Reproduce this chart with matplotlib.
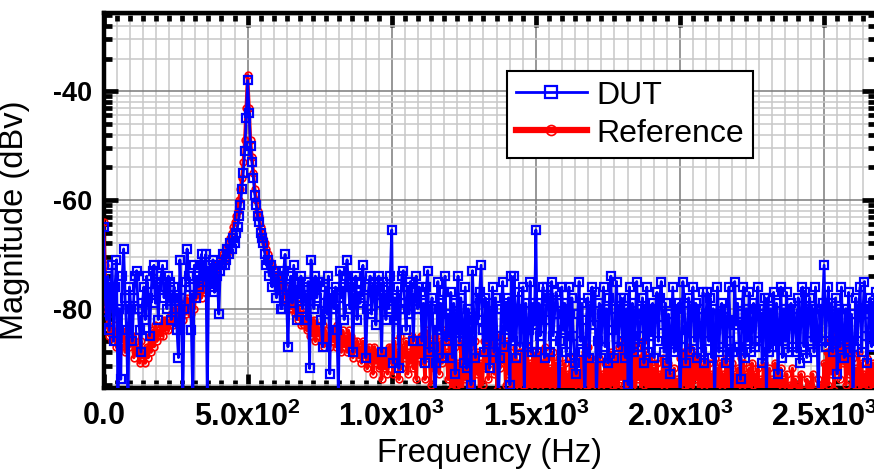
import numpy as np
import matplotlib
matplotlib.use("Agg")
import matplotlib.pyplot as plt
from matplotlib.ticker import MultipleLocator, FixedLocator

plt.rcParams['font.family'] = ['Liberation Sans', 'DejaVu Sans']
plt.rcParams['axes.unicode_minus'] = False
plt.rcParams['mathtext.fontset'] = 'custom'
plt.rcParams['mathtext.rm'] = 'Liberation Sans'
plt.rcParams['mathtext.bf'] = 'Liberation Sans:bold'

# ---------------- data ----------------
freq_step = 5  # Hz, FFT bin spacing
freq = np.arange(0, 2681, freq_step)

dut = [
    -65, -76, -82, -74, -84, -78, -72, -86, -76, -71, -96, -80, -93, -74, -69, -78, -84, -97, -76, -80,
    -86, -78, -74, -73, -80, -84, -88, -79, -76, -82, -74, -78, -85, -77, -73, -72, -79, -75, -82, -76,
    -74, -72, -78, -76, -80, -74, -75, -82, -78, -76, -80, -84, -89, -71, -78, -97, -80, -75, -69, -74,
    -76, -84, -97, -72, -78, -74, -76, -72, -70, -75, -73, -70, -96, -74, -72, -76, -71, -77, -72, -74,
    -81, -73, -72, -70, -72, -71, -69, -70, -68, -69, -67, -68, -66, -65, -63, -61, -58, -55, -51, -45,
    -38, -44, -50, -53, -56, -59, -61, -63, -64, -66, -67, -68, -70, -72, -71, -74, -72, -76, -73, -75,
    -78, -74, -76, -80, -80, -73, -70, -78, -87, -76, -74, -79, -72, -77, -82, -75, -78, -74, -80, -76,
    -78, -82, -75, -91, -71, -76, -80, -74, -78, -75, -75, -82, -87, -79, -76, -81, -74, -92, -78, -77,
    -80, -76, -84, -96, -73, -78, -76, -82, -74, -71, -76, -80, -75, -88, -78, -74, -82, -77, -79, -75,
    -72, -78, -89, -80, -76, -74, -81, -77, -75, -83, -76, -74, -79, -88, -75, -78, -82, -76, -80, -74,
    -65.5, -90, -78, -82, -76, -91, -80, -74, -73, -79, -84, -76, -81, -75, -78, -86, -77, -74, -80, -76,
    -77, -86, -79, -90, -76, -73, -88, -80, -78, -87, -97, -90, -75, -84, -79, -89, -77, -74, -86, -81,
    -85, -77, -89, -79, -92, -81, -74, -86, -78, -84, -90, -76, -91, -80, -86, -94, -73, -82, -89, -78,
    -82, -77, -72, -84, -88, -78, -86, -79, -91, -81, -76, -88, -78, -85, -97, -89, -80, -75, -87, -79,
    -84, -78, -94, -74, -86, -74, -89, -80, -77, -87, -82, -76, -96, -79, -87, -84, -75, -88, -79, -83,
    -65.5, -88, -79, -85, -80, -76, -89, -82, -76, -78, -88, -75, -85, -81, -77, -79, -97, -86, -76, -84,
    -79, -88, -80, -76, -89, -78, -85, -90, -92, -81, -75, -86, -79, -88, -97, -82, -78, -89, -80, -76,
    -83, -77, -97, -86, -79, -89, -81, -76, -87, -80, -90, -78, -74, -84, -89, -80, -75, -87, -82, -78,
    -86, -78, -89, -80, -94, -76, -96, -79, -88, -81, -75, -87, -85, -80, -78, -90, -82, -76, -88, -80,
    -85, -79, -89, -80, -77, -86, -78, -75, -83, -88, -79, -90, -81, -92, -84, -76, -88, -80, -86, -79,
    -97, -87, -75, -79, -90, -84, -78, -88, -80, -76, -86, -79, -89, -80, -84, -88, -77, -90, -81, -77,
    -86, -78, -89, -80, -97, -84, -76, -88, -81, -79, -87, -80, -90, -82, -76, -86, -97, -88, -75, -83,
    -79, -87, -93, -81, -76, -89, -80, -86, -77, -88, -83, -79, -87, -80, -76, -86, -81, -90, -80, -78,
    -97, -78, -88, -80, -87, -77, -86, -79, -92, -83, -76, -89, -80, -86, -77, -88, -82, -79, -87, -80,
    -83, -88, -78, -90, -81, -76, -87, -77, -89, -80, -78, -86, -80, -88, -76, -84, -97, -80, -86, -79,
    -72, -87, -80, -76, -86, -79, -88, -81, -78, -92, -80, -87, -76, -85, -89, -80, -86, -77, -88, -81,
    -97, -87, -78, -86, -80, -76, -88, -80, -75, -85, -90, -81, -78, -87, -79, -86, -77,
]

reference = [
    -64, -72, -80, -83, -85, -84, -86, -83, -85, -87, -84, -87, -84, -86, -85, -88, -86, -84, -87, -85,
    -86, -89, -85, -88, -87, -90, -86, -89, -88, -90, -87, -89, -85, -88, -84, -87, -83, -86, -84, -85,
    -83, -85, -82, -84, -82, -84, -83, -81, -83, -82, -80, -82, -80, -81, -79, -82, -80, -81, -78, -80,
    -79, -81, -78, -80, -77, -78, -77, -76, -78, -75, -77, -75, -76, -74, -75, -73, -74, -72, -74, -73,
    -72, -71, -72, -70, -71, -69, -70, -68, -67, -66, -65, -64, -63, -62, -60, -58, -56, -53, -49, -43,
    -37, -43, -49, -52, -55, -58, -60, -62, -63, -65, -66, -67, -68, -69, -70, -71, -72, -72, -73, -74,
    -74, -76, -74, -77, -75, -78, -76, -79, -77, -80, -78, -80, -79, -81, -79, -82, -80, -83, -81, -83,
    -82, -84, -82, -85, -83, -85, -82, -86, -83, -85, -84, -86, -83, -87, -84, -86, -85, -87, -84, -86,
    -84, -87, -83, -86, -85, -88, -84, -87, -85, -88, -84, -87, -85, -89, -86, -88, -86, -89, -87, -90,
    -86, -89, -88, -91, -87, -90, -88, -92, -87, -90, -88, -91, -89, -93, -88, -91, -88, -92, -87, -90,
    -87, -92, -86, -90, -88, -93, -85, -91, -87, -89, -86, -92, -88, -90, -85, -91, -87, -93, -86, -89,
    -85, -90, -87, -93, -84, -89, -88, -94, -86, -91, -85, -88, -87, -92, -86, -90, -84, -89, -88, -93,
    -86, -95, -89, -97, -87, -94, -90, -98, -86, -96, -88, -93, -91, -97, -87, -95, -89, -96, -86, -92,
    -88, -96, -90, -94, -86, -91, -85, -93, -87, -90, -84, -92, -86, -95, -88, -91, -85, -90, -87, -94,
    -86, -92, -88, -97, -89, -95, -87, -98, -90, -96, -88, -94, -89, -97, -87, -95, -90, -98, -88, -96,
    -89, -97, -88, -95, -90, -99, -87, -96, -89, -98, -91, -95, -88, -97, -90, -99, -89, -96, -91, -98,
    -90, -98, -92, -96, -89, -99, -91, -97, -90, -95, -92, -98, -89, -96, -88, -94, -87, -97, -89, -95,
    -90, -97, -91, -99, -89, -95, -92, -98, -90, -96, -91, -99, -88, -94, -90, -97, -89, -95, -87, -93,
    -86, -94, -88, -96, -87, -92, -86, -95, -88, -97, -87, -93, -89, -96, -86, -94, -88, -99, -90, -97,
    -89, -98, -91, -96, -90, -99, -92, -97, -89, -95, -91, -98, -90, -96, -92, -99, -91, -97, -93, -98,
    -89, -96, -88, -94, -90, -98, -87, -95, -89, -97, -88, -93, -90, -96, -89, -98, -91, -95, -90, -97,
    -90, -98, -92, -96, -89, -99, -91, -97, -90, -95, -92, -98, -89, -96, -91, -99, -90, -97, -92, -98,
    -91, -97, -89, -95, -90, -99, -92, -96, -91, -98, -90, -94, -92, -97, -91, -99, -93, -96, -90, -98,
    -92, -99, -91, -97, -93, -98, -90, -96, -92, -99, -91, -95, -93, -98, -92, -97, -94, -99, -91, -96,
    -93, -99, -94, -97, -92, -98, -95, -99, -93, -97, -94, -98, -92, -96, -95, -99, -93, -98, -94, -97,
    -90, -96, -88, -94, -86, -92, -87, -95, -85, -91, -86, -93, -87, -90, -85, -94, -86, -92, -88, -95,
    -89, -96, -91, -94, -88, -97, -90, -95, -92, -98, -89, -94, -91, -97, -90, -96, -92,
]

x_major_ticks = [0, 500, 1000, 1500, 2000, 2500]
x_tick_labels = [r"$\mathbf{0.0}$", r"$\mathbf{5.0x10^{2}}$", r"$\mathbf{1.0x10^{3}}$",
                 r"$\mathbf{1.5x10^{3}}$", r"$\mathbf{2.0x10^{3}}$", r"$\mathbf{2.5x10^{3}}$"]
y_major_ticks = [-100, -80, -60, -40, -20]
y_tick_labels = ["-100", "-80", "-60", "-40", "-20"]

# ---------------- figure ----------------
W, H = 874, 473
fig = plt.figure(figsize=(W / 100, H / 100), dpi=100)
ax_l, ax_r, ax_t, ax_b = 103.5, 876.0, 12.5, 387.5
ax = fig.add_axes([ax_l / W, 1 - ax_b / H, (ax_r - ax_l) / W, (ax_b - ax_t) / H])

ax.plot(freq, reference, color='#ff0000', lw=2.4, marker='o', ms=4.8,
        mfc='none', mec='#ff0000', mew=1.2, label='Reference', zorder=3)
ax.plot(freq, dut, color='#0000ff', lw=2.0, marker='s', ms=5.8,
        mfc='none', mec='#0000ff', mew=1.6, label='DUT', zorder=4)

ax.set_xlim(0, 2680)
ax.set_ylim(-94.5, -25.5)

ax.xaxis.set_major_locator(FixedLocator(x_major_ticks))
ax.set_xticklabels(x_tick_labels)
ax.xaxis.set_minor_locator(MultipleLocator(500 / 11))

ax.yaxis.set_major_locator(FixedLocator(y_major_ticks))
ax.set_yticklabels(y_tick_labels, fontweight='bold')
y_minor = []
for m in y_major_ticks:
    for k in range(2, 10):
        y_minor.append(m - 20 * (1 - np.log10(k)))
ax.yaxis.set_minor_locator(FixedLocator(y_minor))

ax.set_axisbelow(True)
ax.grid(which='minor', color='#c8c8c8', lw=1.1)
ax.grid(which='major', color='#7a7a7a', lw=1.1)

for s in ax.spines.values():
    s.set_linewidth(3.2)
ax.tick_params(which='both', direction='in', top=True, right=True, width=3.4)
ax.tick_params(which='major', length=10)
ax.tick_params(which='minor', length=6)
ax.tick_params(axis='x', which='major', labelsize=22, pad=10)
ax.tick_params(axis='y', which='major', labelsize=19.5, pad=8)

ax.set_xlabel('Frequency (Hz)', fontsize=23.5, labelpad=4)
ax.set_ylabel('Magnitude (dBv)', fontsize=23.5)
ax.yaxis.set_label_coords(-0.095, 0.447)

handles, labels = ax.get_legend_handles_labels()
leg = ax.legend(handles[::-1], labels[::-1], loc='upper left',
                bbox_to_anchor=(0.522, 0.844), borderaxespad=0, fontsize=23,
                fancybox=False, framealpha=1, edgecolor='black', numpoints=1,
                handlelength=2.2, handletextpad=0.3, labelspacing=0.25,
                borderpad=0.3, markerscale=1.5)
leg.get_frame().set_linewidth(1.5)
leg_lines = leg.get_lines()
leg_lines[1].set_linewidth(4.5)

fig.savefig('out.png', dpi=100)
